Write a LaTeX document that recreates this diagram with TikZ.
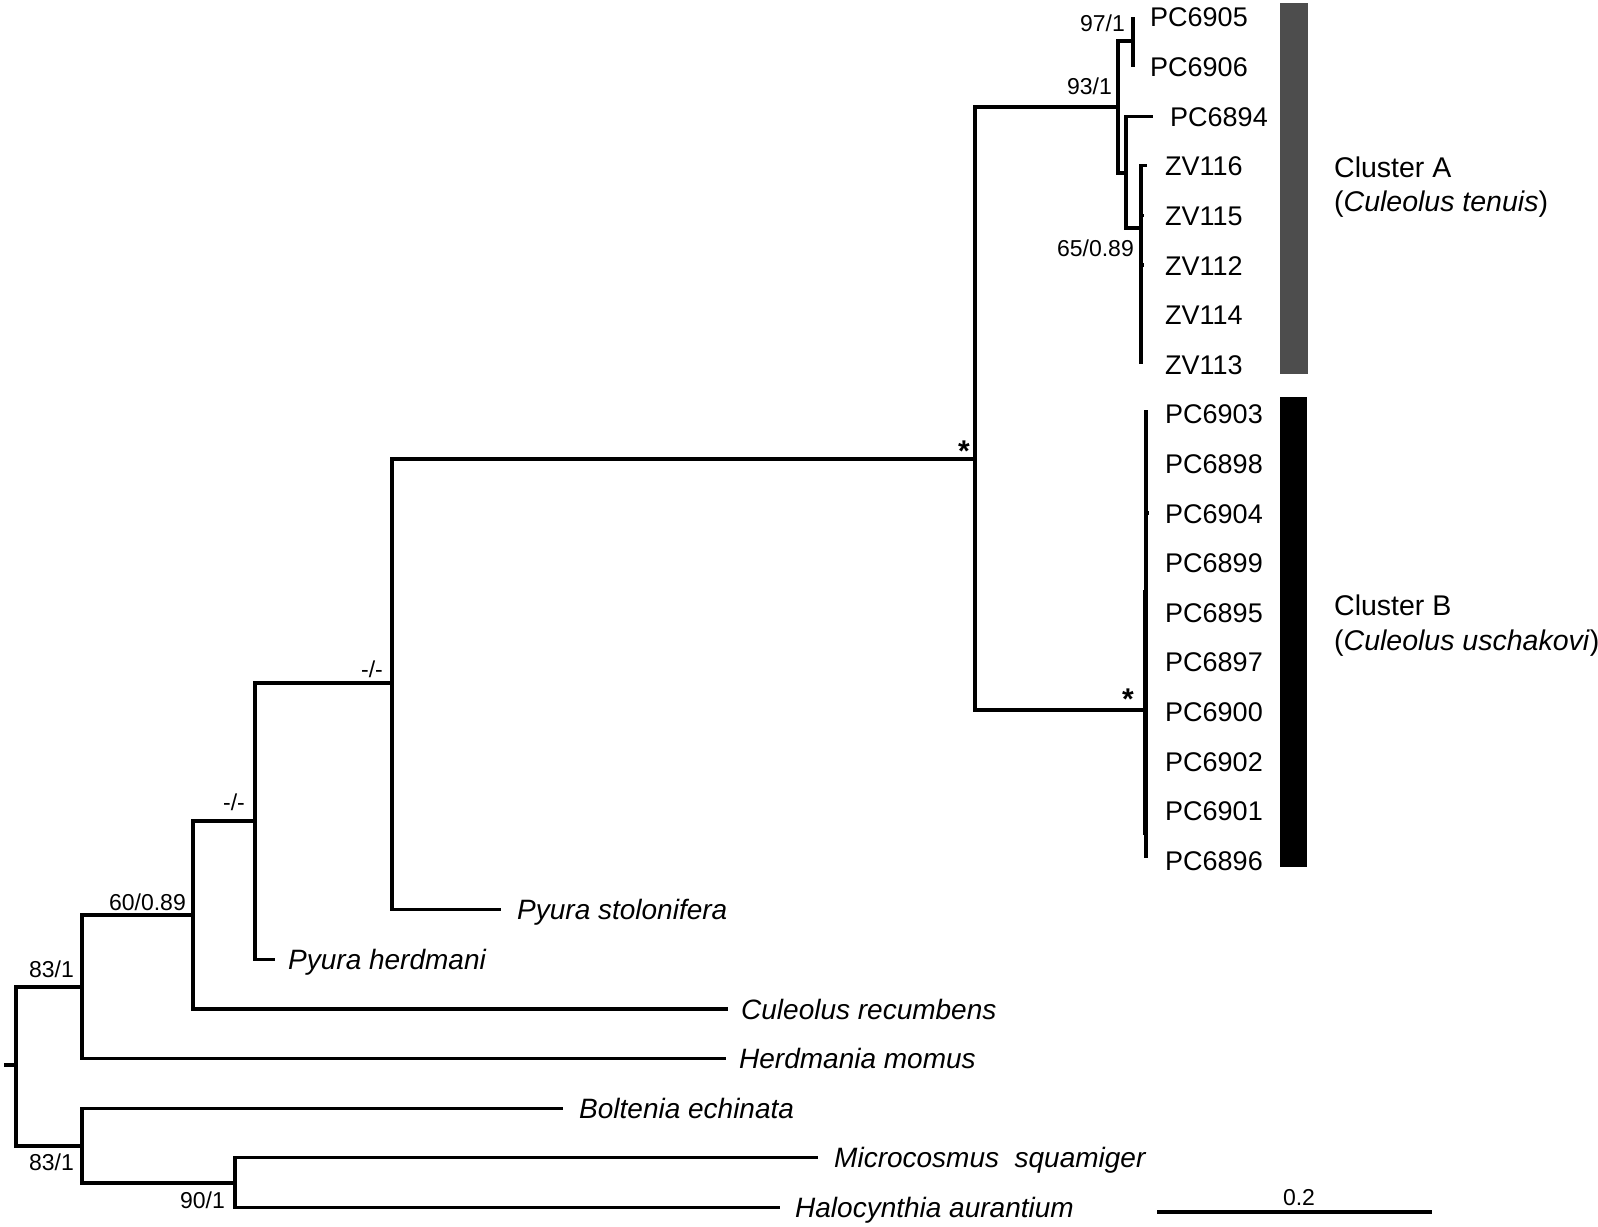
\documentclass[tikz,border=0pt]{standalone}
\usepackage{fontspec}
\setmainfont{Liberation Sans}
\definecolor{barA}{RGB}{77,77,77}
\begin{document}
\begin{tikzpicture}[x=1pt,y=-1pt,
  br/.style={line width=3.2pt, line join=miter},
  thin br/.style={line width=1.4pt},
  tip/.style={anchor=base west, inner sep=0pt, font=\fontsize{27}{32}\selectfont},
  sp/.style={tip, font=\fontsize{28}{33}\selectfont\itshape},
  sup/.style={anchor=base east, inner sep=0pt, font=\fontsize{23}{27}\selectfont},
  supc/.style={anchor=base, inner sep=0pt, font=\fontsize{23}{27}\selectfont},
  star/.style={anchor=base, inner sep=0pt, font=\fontsize{30}{34}\selectfont\bfseries},
  clus/.style={anchor=base west, inner sep=0pt, font=\fontsize{28.5}{33}\selectfont}]
\useasboundingbox (0,0) rectangle (1598,1226);
\fill[white] (0,0) rectangle (1598,1226);

% internal nodes
\coordinate (rootstub) at (4,1065);
\coordinate (root) at (16,1065);
\coordinate (nA) at (82,987);
\coordinate (nB) at (82,1146);
\coordinate (nC) at (193,915);
\coordinate (nD) at (255,821);
\coordinate (nE) at (392,683);
\coordinate (nF) at (975,459);
\coordinate (nG) at (1118,107);
\coordinate (nH) at (1133,41);
\coordinate (nI) at (1126,173);
\coordinate (nJ) at (1141,228);
\coordinate (nK) at (1146,710);
\coordinate (nL) at (235,1183);

% tip ends
\coordinate (t0) at (1133,17);
\coordinate (t1) at (1133,66.6);
\coordinate (t2) at (1153,116.2);
\coordinate (t3) at (1147,165.8);
\coordinate (t4) at (1144,215.4);
\coordinate (t5) at (1144,265);
\coordinate (t6) at (1141,314.6);
\coordinate (t7) at (1141,364.2);
\coordinate (t8) at (1146,410);
\coordinate (t10) at (1149,513);
\coordinate (t17) at (1146,858);
\coordinate (t18) at (501,909.8);
\coordinate (t19) at (275,959.4);
\coordinate (t20) at (728,1009);
\coordinate (t21) at (726,1058.6);
\coordinate (t22) at (563,1108.2);
\coordinate (t23) at (818,1157.8);
\coordinate (t24) at (780,1207.4);
\coordinate (kb1) at (1143.5,590);
\coordinate (kb2) at (1143.5,835);

% branches
\draw[br] (rootstub) -- (root);
\draw[br] (root) |- (nA);
\draw[br] (root) |- (nB);
\draw[br] (nA) |- (nC);
\draw[br] (nA) |- (t21);
\draw[br] (nC) |- (nD);
\draw[br] (nC) |- (t20);
\draw[br] (nD) |- (nE);
\draw[br] (nD) |- (t19);
\draw[br] (nE) |- (nF);
\draw[br] (nE) |- (t18);
\draw[br] (nF) |- (nG);
\draw[br] (nF) |- (nK);
\draw[br] (nG) |- (nH);
\draw[br] (nG) |- (nI);
\draw[br] (nH) |- (t0);
\draw[br] (nH) |- (t1);
\draw[br] (nI) |- (t2);
\draw[br] (nI) |- (nJ);
\draw[br] (nJ) |- (t3);
\draw[br] (nJ) |- (t4);
\draw[br] (nJ) |- (t5);
\draw[br] (nJ) |- (t6);
\draw[br] (nJ) |- (t7);
\draw[br] (nK) |- (t8);
\draw[br] (nK) |- (t17);
\draw[br] (nK |- t10) -- (t10);
\draw[thin br] (kb1) -- (kb2);
\draw[br] (nB) |- (t22);
\draw[br] (nB) |- (nL);
\draw[br] (nL) |- (t23);
\draw[br] (nL) |- (t24);

% tip labels
\node[tip] (l0) at (1150,27) {PC6905};
\node[tip] (l1) at (1150,76.6) {PC6906};
\node[tip] (l2) at (1170,126.2) {PC6894};
\node[tip] (l3) at (1165,175.8) {ZV116};
\node[tip] (l4) at (1165,225.4) {ZV115};
\node[tip] (l5) at (1165,275) {ZV112};
\node[tip] (l6) at (1165,324.6) {ZV114};
\node[tip] (l7) at (1165,374.2) {ZV113};
\node[tip] (l8) at (1165,423.8) {PC6903};
\node[tip] (l9) at (1165,473.4) {PC6898};
\node[tip] (l10) at (1165,523) {PC6904};
\node[tip] (l11) at (1165,572.6) {PC6899};
\node[tip] (l12) at (1165,622.2) {PC6895};
\node[tip] (l13) at (1165,671.8) {PC6897};
\node[tip] (l14) at (1165,721.4) {PC6900};
\node[tip] (l15) at (1165,771) {PC6902};
\node[tip] (l16) at (1165,820.6) {PC6901};
\node[tip] (l17) at (1165,870.2) {PC6896};
\node[sp] (l18) at (517,919.8) {Pyura stolonifera};
\node[sp] (l19) at (288,969.4) {Pyura herdmani};
\node[sp] (l20) at (741,1019) {Culeolus recumbens};
\node[sp] (l21) at (739,1068.6) {Herdmania momus};
\node[sp] (l22) at (579,1118.2) {Boltenia echinata};
\node[sp] (l23) at (834,1167.8) {Microcosmus\ \ squamiger};
\node[sp] (l24) at (795,1217.4) {Halocynthia aurantium};

% support values
\node[sup] (s97) at (1125,31) {97/1};
\node[sup] (s93) at (1112,94) {93/1};
\node[sup] (s65) at (1134,256) {65/0.89};
\node[sup] (s60) at (186,910) {60/0.89};
\node[sup] (s83a) at (74,977) {83/1};
\node[sup] (s83b) at (74,1170) {83/1};
\node[sup] (s90) at (225,1208) {90/1};
\node[supc] (sdu) at (372,677) {-/-};
\node[supc] (sdl) at (234,810) {-/-};
\node[star] (stu) at (964,461) {*};
\node[star] (stl) at (1128,709) {*};

% cluster bars
\fill[barA] (1280,3) rectangle (1308,374);
\fill[black] (1280,397) rectangle (1307,867);
\node[clus] (cA1) at (1334,177) {Cluster A};
\node[clus] (cA2) at (1334,211) {(\textit{Culeolus tenuis})};
\node[clus] (cB1) at (1334,615) {Cluster B};
\node[clus] (cB2) at (1334,650) {(\textit{Culeolus uschakovi})};

% scale bar
\coordinate (sb1) at (1157,1212);
\coordinate (sb2) at (1432,1212);
\draw[br] (sb1) -- (sb2);
\node[supc] (sbl) at (1299,1205) {0.2};
\end{tikzpicture}
\end{document}
